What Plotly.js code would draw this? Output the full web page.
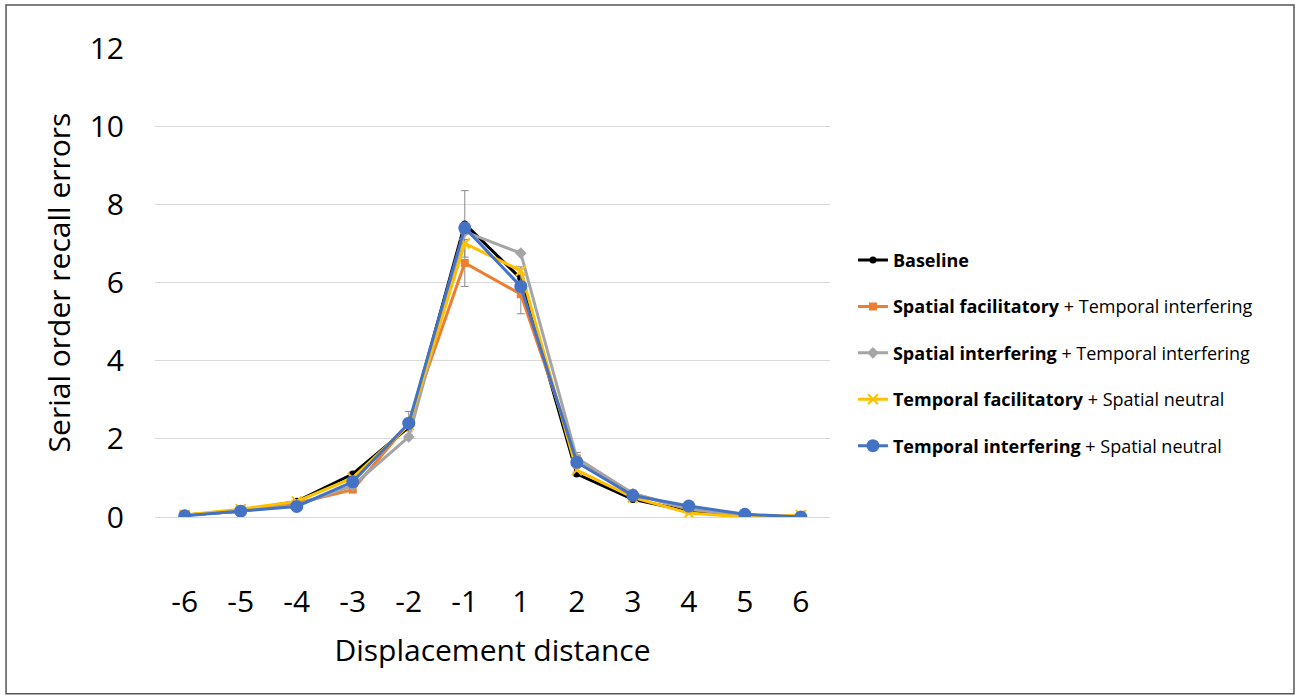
<!DOCTYPE html>
<html>
<head>
<meta charset="utf-8">
<script src="https://cdn.plot.ly/plotly-3.0.1.min.js"></script>
<style>html,body{margin:0;padding:0;background:#fff;}#chart{width:1295px;height:695px;}</style>
</head>
<body>
<div id="chart"></div>
<script>
const categories = ["-6","-5","-4","-3","-2","-1","1","2","3","4","5","6"];
const baseline          = [0.05,0.15,0.40,1.10,2.30,7.50,6.10,1.10,0.45,0.15,0.05,0.00];
const spatialFacil      = [0.05,0.15,0.35,0.70,2.40,6.50,5.70,1.50,0.60,0.20,0.05,0.00];
const spatialInterf     = [0.05,0.15,0.30,0.80,2.05,7.30,6.75,1.50,0.60,0.20,0.05,0.00];
const temporalFacil     = [0.05,0.20,0.40,1.00,2.35,7.00,6.30,1.20,0.50,0.10,0.00,0.05];
const temporalInterf    = [0.03,0.15,0.27,0.90,2.40,7.40,5.90,1.40,0.55,0.28,0.07,0.00];
const baselineErr       = [0,0,0,0.05,0.10,0.85,0.30,0.05,0,0,0,0];
const spatialFacilErr   = [0,0,0,0.05,0.30,0.60,0.50,0.15,0.05,0,0,0];
const seriesNames = [
  "<b>Baseline</b>",
  "<b>Spatial facilitatory</b> + Temporal interfering",
  "<b>Spatial interfering</b> + Temporal interfering",
  "<b>Temporal facilitatory</b> + Spatial neutral",
  "<b>Temporal interfering</b> + Spatial neutral"
];

const errStyle = {type:'data', visible:true, color:'#8c8c8c', thickness:1, width:4};
function tr(y, name, color, symbol, size, err){
  const t = {
    x: categories, y: y, name: name, type:'scatter', mode:'lines+markers',
    line:{color:color, width:3},
    marker:{color:color, symbol:symbol, size:size, line:{color:color, width: symbol==='x-thin'?2:0}},
    legendgroup: name
  };
  if (err) t.error_y = Object.assign({array: err}, errStyle);
  return t;
}
const data = [
  tr(baseline, seriesNames[0], '#000000', 'circle', 7, baselineErr),
  tr(spatialFacil, seriesNames[1], '#ED7D31', 'square', 8, spatialFacilErr),
  tr(spatialInterf, seriesNames[2], '#A5A5A5', 'diamond', 9, null),
  tr(temporalFacil, seriesNames[3], '#FFC000', 'x-thin', 10, null),
  tr(temporalInterf, seriesNames[4], '#4472C4', 'circle', 13, null)
];

const FONT = '"Open Sans", Lato, sans-serif';
const layout = {
  width:1295, height:695,
  margin:{l:155, r:465, t:48, b:178},
  paper_bgcolor:'#fff', plot_bgcolor:'#fff',
  font:{family:FONT, color:'#000'},
  showlegend:true,
  legend:{x:1.034, xanchor:'left', y:0.35, yanchor:'middle', traceorder:'grouped', tracegroupgap:20,
          font:{size:18, family:FONT, color:'#000'}, bgcolor:'rgba(0,0,0,0)'},
  xaxis:{type:'category', range:[-0.53, 11.52], showgrid:false, zeroline:false, showline:false,
         ticks:'outside', ticklen:58, tickcolor:'rgba(0,0,0,0)',
         tickfont:{size:30, family:FONT},
         title:{text:'Displacement distance', font:{size:30, family:FONT}, standoff:19}},
  yaxis:{range:[0,12], dtick:2, showgrid:true, gridcolor:'#d9d9d9', gridwidth:1,
         zeroline:true, zerolinecolor:'#d9d9d9', zerolinewidth:1, showline:false,
         ticks:'outside', ticklen:24, tickcolor:'rgba(0,0,0,0)',
         tickfont:{size:30, family:FONT},
         title:{text:'Serial order recall errors', font:{size:30, family:FONT}, standoff:10}},
  shapes:[{type:'rect', xref:'paper', yref:'paper', x0:-0.2207, x1:1.6874, y0:-0.377, y1:1.0917,
           line:{color:'#555', width:1.5}, fillcolor:'rgba(0,0,0,0)'}]
};
Plotly.newPlot('chart', data, layout, {displayModeBar:false, staticPlot:true});
</script>
</body>
</html>
